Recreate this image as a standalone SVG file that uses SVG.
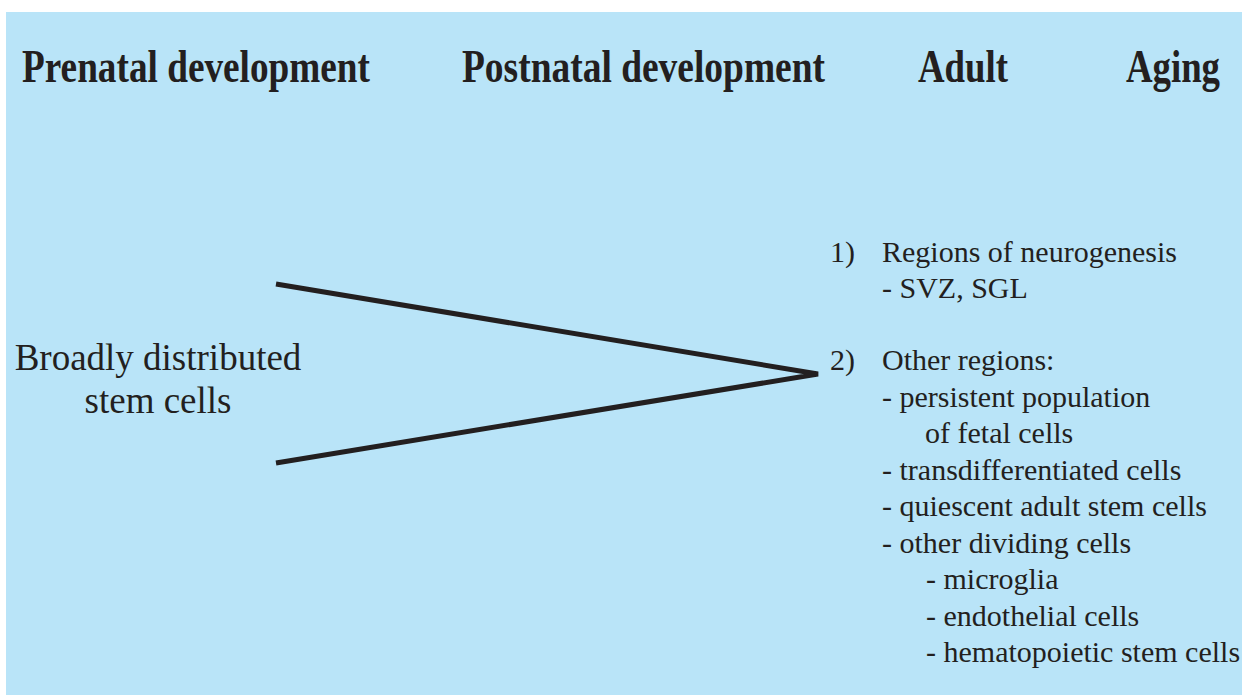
<svg xmlns="http://www.w3.org/2000/svg" width="1242" height="695" viewBox="0 0 1242 695">
<style>
.h{font-family:"Liberation Serif",serif;font-weight:bold;font-size:46px;fill:#231f20}
.t{font-family:"Liberation Serif",serif;font-size:30px;fill:#231f20}
.b{font-family:"Liberation Serif",serif;font-size:37px;fill:#231f20}
.c{stroke:#231f20;stroke-width:5;fill:none;stroke-linecap:butt}
</style>
<rect x="0" y="0" width="1242" height="695" fill="#ffffff"/>
<rect x="6" y="12" width="1236" height="683" fill="#b9e4f8"/>
<g id="headers">
<text class="h" x="22" y="82" textLength="348" lengthAdjust="spacingAndGlyphs">Prenatal development</text>
<text class="h" x="462" y="82" textLength="363" lengthAdjust="spacingAndGlyphs">Postnatal development</text>
<text class="h" x="918" y="82" textLength="90" lengthAdjust="spacingAndGlyphs">Adult</text>
<text class="h" x="1126" y="82" textLength="94" lengthAdjust="spacingAndGlyphs">Aging</text>
</g>
<g id="source">
<text class="b" x="158" y="370" text-anchor="middle">Broadly distributed</text>
<text class="b" x="158" y="413" text-anchor="middle">stem cells</text>
</g>
<g id="connectors">
<polyline class="c" points="276,284 818,374 276,463"/>
</g>
<g id="target1">
<text class="t" x="830" y="262">1)</text>
<text class="t" x="882" y="262">Regions of neurogenesis</text>
<text class="t" x="882" y="298">- SVZ, SGL</text>
</g>
<g id="target2">
<text class="t" x="830" y="370">2)</text>
<text class="t" x="882" y="370">Other regions:</text>
<text class="t" x="882" y="407">- persistent population</text>
<text class="t" x="925" y="443">of fetal cells</text>
<text class="t" x="882" y="480">- transdifferentiated cells</text>
<text class="t" x="882" y="516">- quiescent adult stem cells</text>
<text class="t" x="882" y="553">- other dividing cells</text>
<text class="t" x="926" y="589">- microglia</text>
<text class="t" x="926" y="626">- endothelial cells</text>
<text class="t" x="926" y="662">- hematopoietic stem cells</text>
</g>
</svg>
